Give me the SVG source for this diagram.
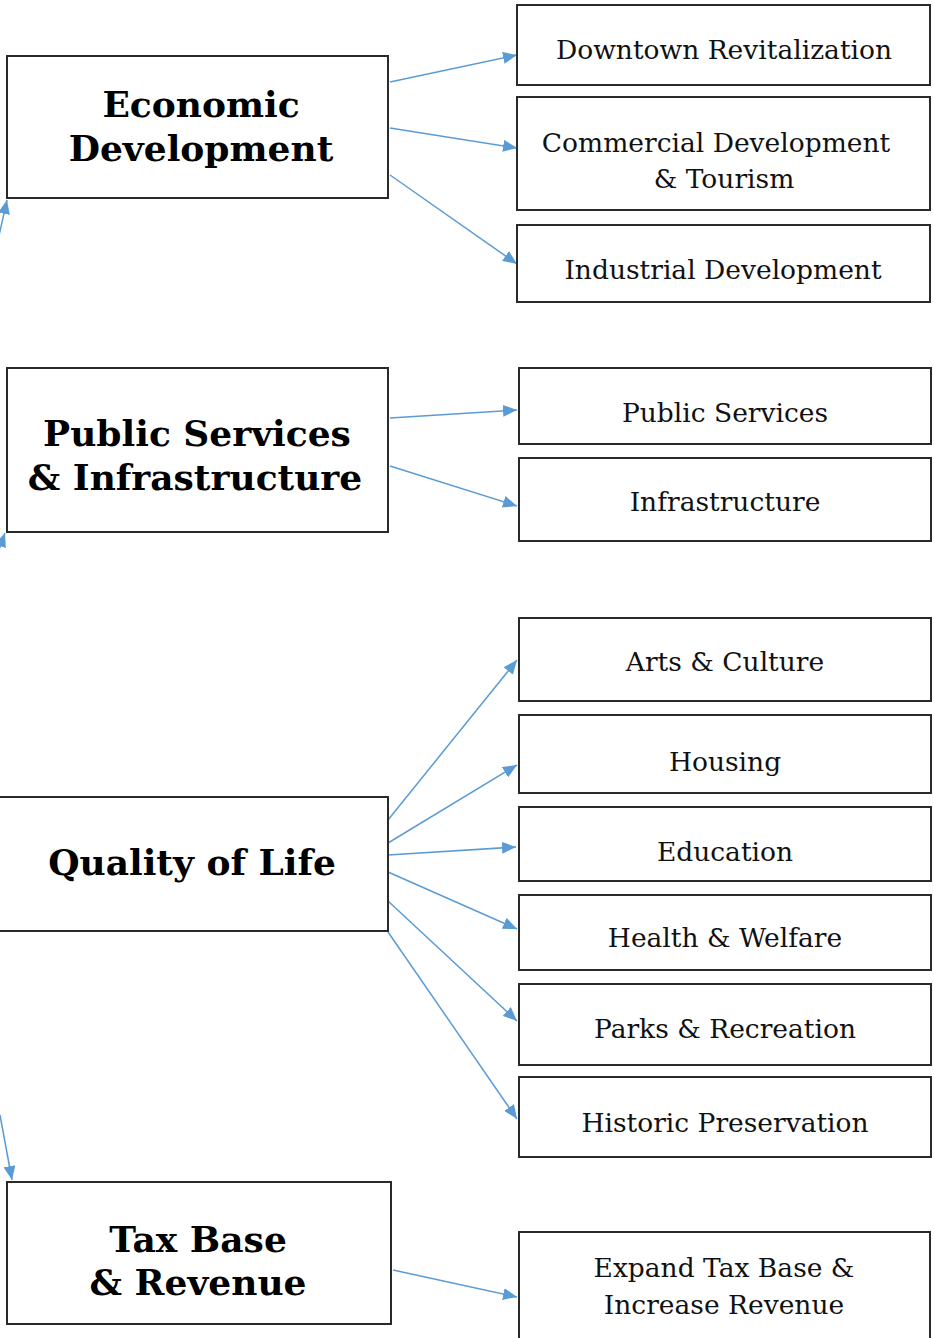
<svg xmlns="http://www.w3.org/2000/svg" width="934" height="1338" viewBox="0 0 934 1338">
<style>
.box{fill:#fff;stroke:#2a2a2a;stroke-width:2}
.t{font-family:"DejaVu Serif","Liberation Serif",serif;font-weight:bold;font-size:36px;fill:#000;text-anchor:middle}
.s{font-family:"DejaVu Serif","Liberation Serif",serif;font-size:26.5px;fill:#111;text-anchor:middle}
.c{stroke:#5b9bd5;stroke-width:1.5;fill:none;marker-end:url(#ah)}
</style>
<defs>
<marker id="ah" viewBox="0 0 14 12" refX="14" refY="6" markerWidth="14" markerHeight="12" markerUnits="userSpaceOnUse" orient="auto"><path d="M0,0 L14,6 L0,12 z" fill="#5b9bd5"/></marker>
</defs>
<rect width="934" height="1338" fill="#fff"/>
<g id="connectors">
<line class="c" x1="390" y1="82" x2="517" y2="55"/>
<line class="c" x1="390" y1="128" x2="517" y2="148"/>
<line class="c" x1="390" y1="175" x2="517" y2="264"/>
<line class="c" x1="390" y1="418" x2="517" y2="410"/>
<line class="c" x1="390" y1="466" x2="517" y2="506"/>
<line class="c" x1="388" y1="820" x2="517" y2="660"/>
<line class="c" x1="388" y1="843" x2="517" y2="765"/>
<line class="c" x1="388" y1="855" x2="516" y2="847"/>
<line class="c" x1="388" y1="872" x2="517" y2="929"/>
<line class="c" x1="388" y1="901" x2="517" y2="1021"/>
<line class="c" x1="388" y1="932" x2="517" y2="1119"/>
<line class="c" x1="393" y1="1270" x2="517" y2="1297"/>
<line class="c" x1="-2" y1="240" x2="7" y2="200"/>
<line class="c" x1="-3" y1="555" x2="5" y2="533"/>
<line class="c" x1="0" y1="1115" x2="12" y2="1180"/>
</g>
<g id="economic-development"><rect class="box" x="7" y="56" width="381" height="142"/><text class="t" x="201" y="117">Economic</text><text class="t" x="201" y="161">Development</text></g>
<g id="public-services-infrastructure"><rect class="box" x="7" y="368" width="381" height="164"/><text class="t" x="197" y="446">Public Services</text><text class="t" x="195" y="490">&amp; Infrastructure</text></g>
<g id="quality-of-life"><rect class="box" x="-2" y="797" width="390" height="134"/><text class="t" x="192" y="875">Quality of Life</text></g>
<g id="tax-base-revenue"><rect class="box" x="7" y="1182" width="384" height="142"/><text class="t" x="198" y="1252">Tax Base</text><text class="t" x="198" y="1295">&amp; Revenue</text></g>
<g id="downtown"><rect class="box" x="517" y="5" width="413" height="80"/><text class="s" x="724" y="59">Downtown Revitalization</text></g>
<g id="commercial"><rect class="box" x="517" y="97" width="413" height="113"/><text class="s" x="716" y="152">Commercial Development</text><text class="s" x="724" y="188">&amp; Tourism</text></g>
<g id="industrial"><rect class="box" x="517" y="225" width="413" height="77"/><text class="s" x="723" y="279">Industrial Development</text></g>
<g id="public-services"><rect class="box" x="519" y="368" width="412" height="76"/><text class="s" x="725" y="422">Public Services</text></g>
<g id="infrastructure"><rect class="box" x="519" y="458" width="412" height="83"/><text class="s" x="725" y="511">Infrastructure</text></g>
<g id="arts"><rect class="box" x="519" y="618" width="412" height="83"/><text class="s" x="725" y="671">Arts &amp; Culture</text></g>
<g id="housing"><rect class="box" x="519" y="715" width="412" height="78"/><text class="s" x="725" y="771">Housing</text></g>
<g id="education"><rect class="box" x="519" y="807" width="412" height="74"/><text class="s" x="725" y="861">Education</text></g>
<g id="health"><rect class="box" x="519" y="895" width="412" height="75"/><text class="s" x="725" y="947">Health &amp; Welfare</text></g>
<g id="parks"><rect class="box" x="519" y="984" width="412" height="81"/><text class="s" x="725" y="1038">Parks &amp; Recreation</text></g>
<g id="historic"><rect class="box" x="519" y="1077" width="412" height="80"/><text class="s" x="725" y="1132">Historic Preservation</text></g>
<g id="expand"><rect class="box" x="519" y="1232" width="411" height="110"/><text class="s" x="724" y="1277">Expand Tax Base &amp;</text><text class="s" x="724" y="1314">Increase Revenue</text></g>
</svg>
